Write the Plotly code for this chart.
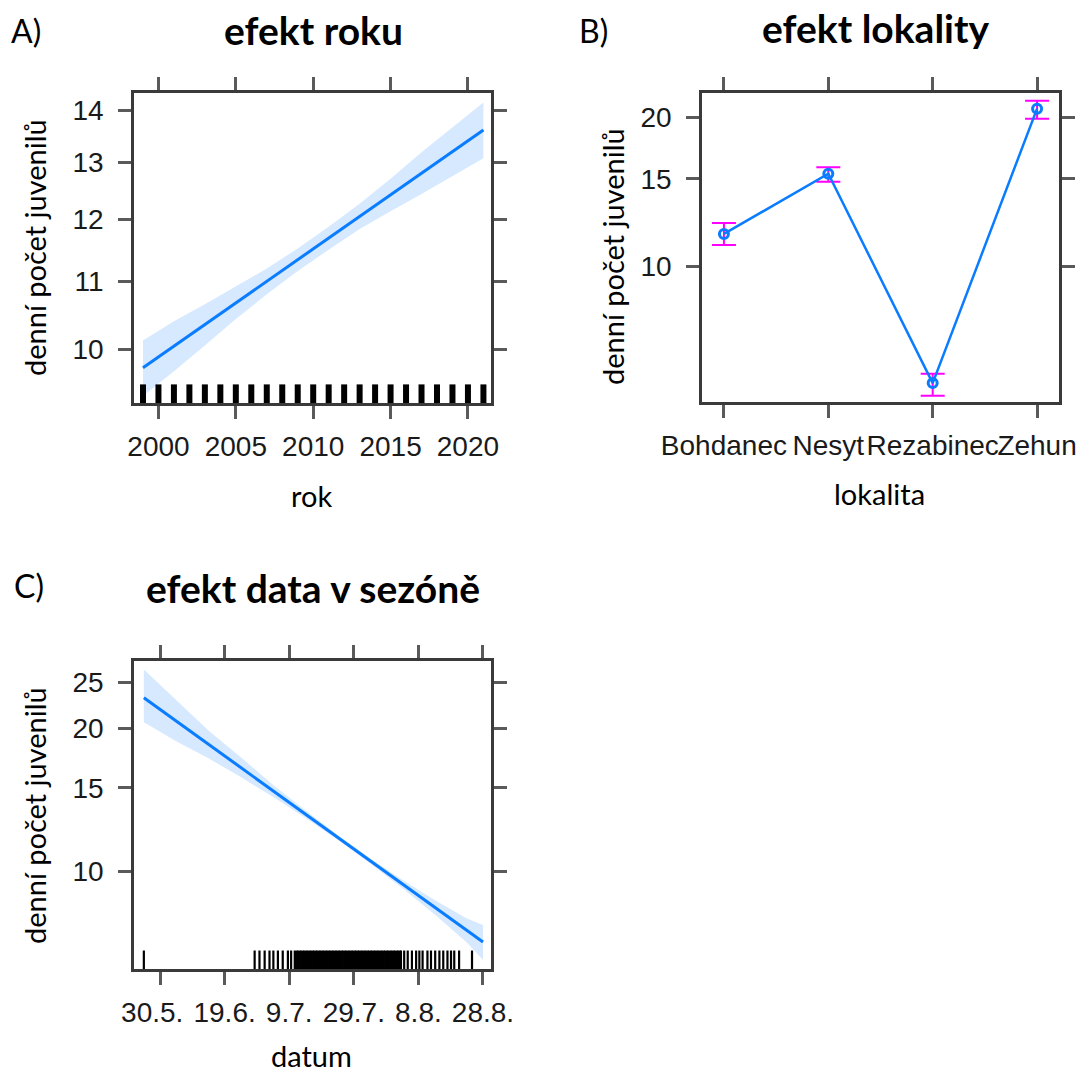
import plotly.graph_objects as go

# ---------------- Panel A: efekt roku ----------------
rok_years = [1999, 2001, 2003, 2005, 2007, 2009, 2011, 2013, 2015, 2017, 2019, 2021]
rok_fit = [9.74, 10.04, 10.35, 10.67, 11.00, 11.34, 11.69, 12.05, 12.42, 12.81, 13.20, 13.61]
rok_lower = [9.36, 9.69, 10.05, 10.43, 10.80, 11.16, 11.50, 11.84, 12.14, 12.44, 12.75, 13.08]
rok_upper = [10.12, 10.40, 10.65, 10.92, 11.20, 11.52, 11.88, 12.27, 12.71, 13.19, 13.67, 14.15]
rok_rug = [1999, 2000, 2001, 2002, 2003, 2004, 2005, 2006, 2007, 2008, 2009, 2010,
           2011, 2012, 2013, 2014, 2015, 2016, 2017, 2018, 2019, 2020, 2021]
rok_xticks = [2000, 2005, 2010, 2015, 2020]
rok_yticks = [10, 11, 12, 13, 14]

# ---------------- Panel B: efekt lokality ----------------
lokality = ["Bohdanec", "Nesyt", "Rezabinec", "Zehun"]
lok_fit = [11.61, 15.36, 5.80, 20.79]
lok_lower = [11.03, 14.80, 5.47, 19.84]
lok_upper = [12.22, 15.84, 6.06, 21.57]
lok_yticks = [10, 15, 20]

# ---------------- Panel C: efekt data v sezóně ----------------
datum_days = [145, 155, 165, 175, 185, 195, 205, 215, 225, 235, 245, 250]
datum_fit = [23.21, 20.73, 18.52, 16.54, 14.78, 13.20, 11.79, 10.53, 9.41, 8.41, 7.51, 7.10]
datum_lower = [20.6, 18.8, 17.3, 15.8, 14.35, 12.97, 11.65, 10.40, 9.22, 8.12, 7.08, 6.51]
datum_upper = [26.6, 22.9, 19.8, 17.4, 15.2, 13.45, 11.93, 10.66, 9.60, 8.70, 7.96, 7.71]
datum_rug_sparse = [145, 179.3, 180.8, 182.4, 183.9, 185.1, 186.5, 188.0, 189.6, 190.6,
                    224.6, 225.6, 226.7, 228.0, 229.3, 230.3, 231.3, 232.8, 233.9, 235.2,
                    236.5, 237.7, 239.0, 240.1, 241.1, 242.6, 246.6]
datum_rug_dense = [192, 193, 194, 195, 196, 197, 198, 199, 200, 201, 202, 203, 204, 205,
                   206, 207, 208, 209, 210, 211, 212, 213, 214, 215, 216, 217, 218, 219,
                   220, 221, 222, 223, 224]
datum_xticks = [150, 170, 190, 210, 230, 250]
datum_xticktext = ["30.5.\u00a0\u00a0", "19.6.", "9.7.", "29.7.", "8.8.", "28.8."]
datum_yticks = [10, 15, 20, 25]

LINE_BLUE = "#0a7cff"
BAND_BLUE = "#d6e9ff"
CI_PINK = "#ff00ff"
W, H = 1082, 1075


def px_x(p):
    return p / W


def px_y(p):
    return 1 - p / H


def rug_xy(vals, h):
    xs, ys = [], []
    for v in vals:
        xs += [v, v, None]
        ys += [0, h, None]
    return xs, ys


fig = go.Figure()

# Panel A band + line
fig.add_trace(go.Scatter(
    x=rok_years + rok_years[::-1], y=rok_upper + rok_lower[::-1],
    fill="toself", fillcolor=BAND_BLUE, line=dict(width=0), mode="lines",
    xaxis="x", yaxis="y", hoverinfo="skip"))
fig.add_trace(go.Scatter(x=rok_years, y=rok_fit, mode="lines",
                         line=dict(color=LINE_BLUE, width=3), xaxis="x", yaxis="y"))
rx, ry = rug_xy(rok_rug, 0.06)
fig.add_trace(go.Scatter(x=rx, y=ry, mode="lines", line=dict(color="black", width=6),
                         xaxis="x", yaxis="y4", hoverinfo="skip"))

# Panel B
fig.add_trace(go.Scatter(
    x=lokality, y=lok_fit, mode="lines+markers",
    line=dict(color=LINE_BLUE, width=2.5),
    marker=dict(symbol="circle-open", size=9, color=LINE_BLUE, line=dict(width=3)),
    error_y=dict(type="data", symmetric=False,
                 array=[u - f for u, f in zip(lok_upper, lok_fit)],
                 arrayminus=[f - l for f, l in zip(lok_fit, lok_lower)],
                 color=CI_PINK, thickness=2, width=12),
    xaxis="x2", yaxis="y2"))

# Panel C band + line
fig.add_trace(go.Scatter(
    x=datum_days + datum_days[::-1], y=datum_upper + datum_lower[::-1],
    fill="toself", fillcolor=BAND_BLUE, line=dict(width=0), mode="lines",
    xaxis="x3", yaxis="y3", hoverinfo="skip"))
fig.add_trace(go.Scatter(x=datum_days, y=datum_fit, mode="lines",
                         line=dict(color=LINE_BLUE, width=3), xaxis="x3", yaxis="y3"))
sx, sy = rug_xy(datum_rug_sparse, 0.06)
fig.add_trace(go.Scatter(x=sx, y=sy, mode="lines", line=dict(color="black", width=2.2),
                         xaxis="x3", yaxis="y5", hoverinfo="skip"))
dx, dy = rug_xy(datum_rug_dense, 0.06)
fig.add_trace(go.Scatter(x=dx, y=dy, mode="lines", line=dict(color="black", width=4),
                         xaxis="x3", yaxis="y5", hoverinfo="skip"))

tickfont = dict(family="Liberation Sans, Arial, sans-serif", size=28, color="#1a1a1a")
common = dict(showline=True, linecolor="#3a3a3a", linewidth=2.5, mirror="ticks",
              ticks="outside", ticklen=13, tickwidth=2.5, tickcolor="#5a5a5a",
              showgrid=False, zeroline=False, tickfont=tickfont, automargin=False)

fig.update_layout(
    width=W, height=H, margin=dict(l=0, r=0, t=0, b=0, autoexpand=False),
    paper_bgcolor="white", plot_bgcolor="white", showlegend=False,
    xaxis=dict(domain=[px_x(134), px_x(491)], anchor="y", range=[1998.42, 2021.49],
               tickvals=rok_xticks, tickangle=0, ticklabelstandoff=4, **common),
    yaxis=dict(domain=[px_y(403), px_y(93)], anchor="x", type="log",
               range=[0.966983, 1.156522], tickvals=rok_yticks,
               ticktext=[str(v) for v in rok_yticks], ticklabelstandoff=9, **common),
    yaxis4=dict(overlaying="y", range=[0, 1], visible=False, fixedrange=True,
                automargin=False),
    xaxis2=dict(domain=[px_x(702), px_x(1059)], anchor="y2", type="category",
                categoryorder="array", categoryarray=lokality, range=[-0.21, 3.21],
                tickangle=0, ticklabelstandoff=4, **common),
    yaxis2=dict(domain=[px_y(402), px_y(93)], anchor="x2", type="log",
                range=[0.72523, 1.34952], tickvals=lok_yticks,
                ticktext=[str(v) for v in lok_yticks], ticklabelstandoff=9, **common),
    xaxis3=dict(domain=[px_x(134), px_x(491)], anchor="y3", range=[141.95, 252.48],
                tickvals=datum_xticks, ticktext=datum_xticktext, tickangle=0,
                ticklabelstandoff=4, **common),
    yaxis3=dict(domain=[px_y(969), px_y(661)], anchor="x3", type="log",
                range=[0.79432, 1.44301], tickvals=datum_yticks,
                ticktext=[str(v) for v in datum_yticks], ticklabelstandoff=9, **common),
    yaxis5=dict(overlaying="y3", range=[0, 1], visible=False, fixedrange=True,
                automargin=False),
)

TXT = "Lato, 'Open Sans', sans-serif"
ann = []


def add_text(text, x, y, size, xanchor="center", angle=0, bold=False):
    ann.append(dict(text=f"<b>{text}</b>" if bold else text,
                    x=px_x(x), y=px_y(y), xref="paper", yref="paper",
                    xanchor=xanchor, yanchor="middle", showarrow=False,
                    textangle=angle, font=dict(family=TXT, size=size, color="black")))


add_text("A)", 9, 30, 32, xanchor="left")
add_text("B)", 577, 30, 32, xanchor="left")
add_text("C)", 12, 585, 32, xanchor="left")
add_text("efekt roku", 313, 30, 39, bold=True)
add_text("efekt lokality", 875, 28, 39, bold=True)
add_text("efekt data v sezóně", 313, 588, 39, bold=True)
add_text("denní počet juvenilů", 34, 248, 29, angle=-90)
add_text("denní počet juvenilů", 612, 257, 29, angle=-90)
add_text("denní počet juvenilů", 34, 816, 29, angle=-90)
add_text("rok", 311, 495, 29)
add_text("lokalita", 879, 493, 29)
add_text("datum", 311, 1055, 29)
fig.update_layout(annotations=ann)

fig.write_html("out.html")
